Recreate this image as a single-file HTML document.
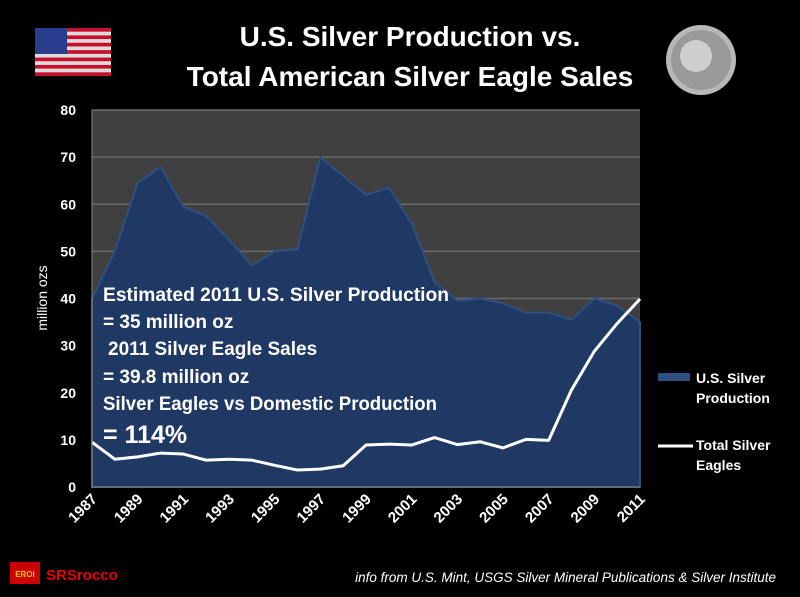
<!DOCTYPE html>
<html><head><meta charset="utf-8"><style>
body{margin:0;background:#000;}
#wrap{position:relative;width:800px;height:597px;background:#000;overflow:hidden;font-family:"Liberation Sans",sans-serif;}
</style></head><body>
<div id="wrap">
<svg id="svg" width="800" height="597" xmlns="http://www.w3.org/2000/svg">
  <g>
    <rect x="35" y="28" width="76" height="48" fill="#ddd"/>
    <g id="stripes"></g>
    <rect x="35" y="28" width="32" height="26" fill="#2a3d8f"/>
  </g>
  <g>
    <circle cx="701" cy="60" r="35" fill="#b8b8b8"/>
    <circle cx="701" cy="60" r="30" fill="#9a9a9a"/>
    <circle cx="696" cy="56" r="16" fill="#cfcfcf"/>
  </g>
  <text x="410" y="46" text-anchor="middle" fill="#fff" font-size="28" font-weight="bold">U.S. Silver Production vs.</text>
  <text x="410" y="86" text-anchor="middle" fill="#fff" font-size="28" font-weight="bold">Total American Silver Eagle Sales</text>
  <rect x="92" y="110" width="548" height="377" fill="#404040"/>
  <g id="grid"></g>
  <g id="yticks"></g>
  <path id="area" fill="#203864" stroke="#2f5080" stroke-width="2"/>
  <path id="line" fill="none" stroke="#fff" stroke-width="3" stroke-linejoin="round"/>
  <line x1="92" y1="487" x2="640" y2="487" stroke="#888"/>
  <line x1="92" y1="110" x2="92" y2="487" stroke="#888"/>
  <g id="xticks"></g>
  <text transform="translate(47,298) rotate(-90)" text-anchor="middle" fill="#fff" font-size="14">million ozs</text>
  <g font-size="19" font-weight="bold" fill="#fff">
    <text x="103" y="301" textLength="346" lengthAdjust="spacingAndGlyphs">Estimated 2011 U.S. Silver Production</text>
    <text x="103" y="328">= 35 million oz</text>
    <text x="108" y="355">2011 Silver Eagle Sales</text>
    <text x="103" y="383">= 39.8 million oz</text>
    <text x="103" y="410" textLength="334" lengthAdjust="spacingAndGlyphs">Silver Eagles vs Domestic Production</text>
    <text x="103" y="443" font-size="25">= 114%</text>
  </g>
  <rect x="658" y="373" width="32" height="8" fill="#2f5080"/>
  <text x="696" y="383" fill="#fff" font-size="14" font-weight="bold"><tspan>U.S. Silver</tspan><tspan x="696" dy="20">Production</tspan></text>
  <line x1="658" y1="446" x2="693" y2="446" stroke="#fff" stroke-width="3"/>
  <text x="696" y="450" fill="#fff" font-size="14" font-weight="bold"><tspan>Total  Silver</tspan><tspan x="696" dy="20">Eagles</tspan></text>
  <g>
    <rect x="10" y="562" width="30" height="22" fill="#c00"/>
    <text x="25" y="577" text-anchor="middle" fill="#fc0" font-size="8" font-weight="bold">EROI</text>
    <text x="46" y="580" fill="#e00" font-size="15" font-weight="bold">SRSrocco</text>
  </g>
  <text x="776" y="582" text-anchor="end" fill="#fff" font-size="13.5" font-style="italic">info from U.S. Mint, USGS Silver Mineral Publications &amp; Silver Institute</text>
</svg>
</div>
<script>
const years=[1987,1988,1989,1990,1991,1992,1993,1994,1995,1996,1997,1998,1999,2000,2001,2002,2003,2004,2005,2006,2007,2008,2009,2010,2011];
const production=[40,50,64.5,68,59.5,57.5,52.5,47,50,50.5,70,66,62,63.5,56,43.5,39.5,40,39,37,37,35.5,40,38.5,35];
const eagles=[9.5,5.9,6.4,7.2,7.0,5.7,5.9,5.7,4.6,3.6,3.8,4.5,8.9,9.1,8.9,10.5,9.0,9.6,8.3,10.1,9.9,20.6,28.8,34.7,39.9];
const yTicks=[0,10,20,30,40,50,60,70,80];
const xLabels=[1987,1989,1991,1993,1995,1997,1999,2001,2003,2005,2007,2009,2011];
const NS='http://www.w3.org/2000/svg';
const x0=92,x1=640,yb=487,yt=110;
function xs(y){return x0+(y-years[0])/(years[years.length-1]-years[0])*(x1-x0);}
function ys(v){return yb-v/80*(yb-yt);}
const st=document.getElementById('stripes');
for(let i=0;i<13;i+=2){const r=document.createElementNS(NS,'rect');r.setAttribute('x',35);r.setAttribute('y',28+i*48/13);r.setAttribute('width',76);r.setAttribute('height',48/13);r.setAttribute('fill','#c8102e');


st.appendChild(r);}
const g=document.getElementById('grid'),yt_=document.getElementById('yticks');
yTicks.forEach(v=>{
 if(v>0){const l=document.createElementNS(NS,'line');l.setAttribute('x1',x0);l.setAttribute('x2',x1);l.setAttribute('y1',ys(v));l.setAttribute('y2',ys(v));l.setAttribute('stroke','#6a6a6a');l.setAttribute('stroke-width','1.5');
 
 
 g.appendChild(l);}
 const t=document.createElementNS(NS,'text');t.setAttribute('x',76);t.setAttribute('y',ys(v)+5);t.setAttribute('text-anchor','end');t.setAttribute('fill','#fff');t.setAttribute('font-size','14');t.setAttribute('font-weight','bold');t.textContent=v;
 
 
 yt_.appendChild(t);
});
let d='M'+xs(years[0])+','+yb;
years.forEach((y,i)=>{d+=' L'+xs(y)+','+ys(production[i]);});
d+=' L'+xs(years[years.length-1])+','+yb+' Z';
document.getElementById('area').setAttribute('d',d);
document.getElementById('line').setAttribute('d',years.map((y,i)=>(i?'L':'M')+xs(y)+','+ys(eagles[i])).join(' '));
const xt=document.getElementById('xticks');
xLabels.forEach(y=>{
 const t=document.createElementNS(NS,'text');const px=xs(y)+6,py=500;
 t.setAttribute('transform','translate('+px+','+py+') rotate(-45)');t.setAttribute('text-anchor','end');t.setAttribute('fill','#fff');t.setAttribute('font-size','15');t.setAttribute('font-weight','bold');t.textContent=y;
 
 
 xt.appendChild(t);
});
</script>
</body></html>
